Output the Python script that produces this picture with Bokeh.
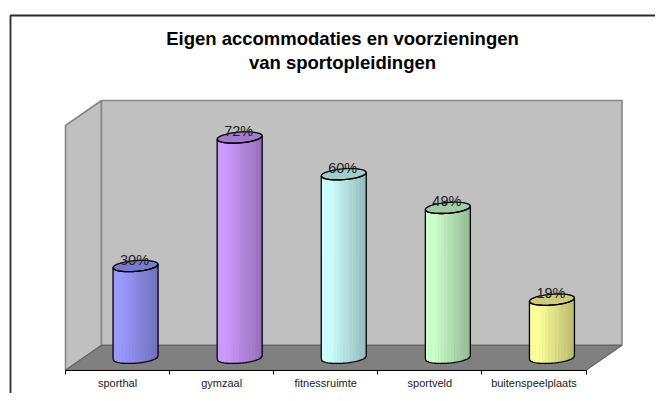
import numpy as np
from bokeh.plotting import figure
from bokeh.models import Range1d, LinearAxis, FixedTicker
from bokeh.core.properties import value
from bokeh.embed import file_html
from bokeh.resources import INLINE

title_lines = ["Eigen accommodaties en voorzieningen", "van sportopleidingen"]
categories = ["sporthal", "gymzaal", "fitnessruimte", "sportveld", "buitenspeelplaats"]
percentages = [30, 72, 60, 49, 19]
base_colors = ["#9999FF", "#CC99FF", "#CCFFFF", "#CCFFCC", "#FFFF99"]

W, H = 655, 393
PX_X, PX_Y = 104.1, 3.06           # pixels per category / per percent
ORIGIN_X, ORIGIN_Y = 65.0, 357.3   # canvas position of category 0 / 0 %
AXIS_MAX = 80
DX, DY = 36 / PX_X, 12.5 / PX_Y    # depth of the 3D box
HALF_W, SEMI, TILT = 22.5 / PX_X, 5.4 / PX_Y, 1.7 / PX_Y
N = len(categories)

def shade(hex_color, f):
    r, g, b = (int(hex_color[i:i + 2], 16) for i in (1, 3, 5))
    return "#%02x%02x%02x" % (round(r * f), round(g * f), round(b * f))

p = figure(width=W, height=H, output_backend="svg", toolbar_location=None,
           x_range=Range1d(-ORIGIN_X / PX_X, (W - ORIGIN_X) / PX_X),
           y_range=Range1d((ORIGIN_Y - H) / PX_Y, ORIGIN_Y / PX_Y),
           x_axis_type=None, y_axis_type=None, min_border=0,
           outline_line_color=None, background_fill_color="white")

x0, x1 = p.x_range.start, p.x_range.end
y0, y1 = p.y_range.start, p.y_range.end
frame_x = x0 + 10 / PX_X
frame_y = y1 - 15 / PX_Y
p.line([frame_x, frame_x, x1], [y0, frame_y, frame_y], line_color="#2a2a2a", line_width=1.8)

# walls and floor
p.patch([0, DX, DX, 0], [-DY, DY, AXIS_MAX + DY, AXIS_MAX - DY],
        fill_color="#C0C0C0", line_color="#868686", line_width=1.6)
p.patch([DX, N + DX, N + DX, DX], [DY, DY, AXIS_MAX + DY, AXIS_MAX + DY],
        fill_color="#C0C0C0", line_color="#868686", line_width=1.6)
p.patch([0, DX, N + DX, N], [-DY, DY, DY, -DY],
        fill_color="#808080", line_color="#666666", line_width=1.2)

# cylinders
STRIPS = 14
u_edges = np.linspace(-1, 1, STRIPS + 1)
for i, (v, col) in enumerate(zip(percentages, base_colors)):
    cx = i + 0.5 + DX / 2
    xs, ys, fills = [], [], []
    for k in range(STRIPS):
        u = np.linspace(u_edges[k], u_edges[k + 1], 6)
        front = -SEMI * np.sqrt(np.clip(1 - u ** 2, 0, 1)) + TILT * u
        xs.append(list(cx + HALF_W * u) + list(cx + HALF_W * u[::-1]))
        ys.append(list(v + front) + list((front)[::-1]))
        mid = (k + 0.5) / STRIPS
        fills.append(shade(col, 1.0 if mid < 0.2 else 1.0 - 0.27 * (mid - 0.2) / 0.8))
    p.patches(xs, ys, fill_color=fills, line_color=fills, line_width=0.5)
    t = np.linspace(0, 2 * np.pi, 60)
    ex = cx + HALF_W * np.cos(t)
    ey = SEMI * np.sin(t) + TILT * np.cos(t)
    p.patch(ex, v + ey, fill_color=shade(col, 0.8), line_color="black", line_width=1.3)
    u = np.linspace(-1, 1, 40)
    front = -SEMI * np.sqrt(1 - u ** 2) + TILT * u
    ox = list(cx + HALF_W * u) + list(cx + HALF_W * u[::-1]) + [cx - HALF_W]
    oy = list(front) + list(v + front[::-1]) + [front[0]]
    p.line(ox, oy, line_color="black", line_width=1.3)

# value labels
p.text([i + 0.5 + DX / 2 - 1 / PX_X for i in range(N)], [v + 6.5 / PX_Y for v in percentages],
       text=[f"{v}%" for v in percentages], text_align="center", text_baseline="middle",
       text_font=value("Liberation Sans"), text_font_size="14.5px", text_color="#222222")

# title
p.text([(342 - ORIGIN_X) / PX_X] * 2,
       [(ORIGIN_Y - 38) / PX_Y, (ORIGIN_Y - 62) / PX_Y],
       text=title_lines, text_align="center", text_baseline="middle",
       text_font=value("Liberation Sans"), text_font_style="bold",
       text_font_size="18.5px", text_color="black")

# category axis
axis = LinearAxis(fixed_location=-DY, bounds=(0, N))
axis.ticker = FixedTicker(ticks=[i + 0.5 for i in range(N)], minor_ticks=list(range(N + 1)))
axis.major_label_overrides = {i + 0.5: c for i, c in enumerate(categories)}
axis.major_tick_line_color = None
axis.major_tick_out = 0
axis.major_tick_in = 0
axis.minor_tick_out = 4
axis.minor_tick_in = 0
axis.minor_tick_line_color = "black"
axis.axis_line_color = "black"
axis.axis_line_width = 1.2
axis.major_label_standoff = 3
axis.major_label_text_font = "Liberation Sans"
axis.major_label_text_font_size = "11px"
axis.major_label_text_color = "#222222"
p.add_layout(axis, "below")

open("out.html", "w").write(file_html(p, INLINE))
